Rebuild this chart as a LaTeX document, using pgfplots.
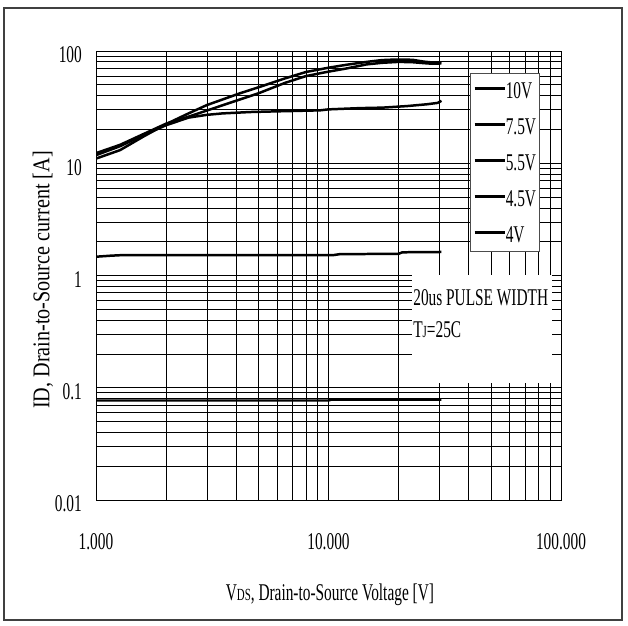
\documentclass[border=0pt]{standalone}
\usepackage{fontspec}
\setmainfont{Liberation Serif}[FakeStretch=0.64]
\newfontfamily\ylabfont{Liberation Serif}[FakeStretch=0.84]
\usepackage{pgfplots}
\pgfplotsset{compat=1.18}
\begin{document}%
\fontsize{24bp}{28bp}\selectfont%
\begin{tikzpicture}
\path[use as bounding box] (0,0) rectangle (628bp,626bp);
\draw[line width=1.2bp, black!75] (4bp,6bp) rectangle (622bp,618bp);
\begin{axis}[
 at={(96bp,126bp)}, anchor=south west,
 scale only axis, width=465bp, height=449bp,
 xmode=log, ymode=log,
 xmin=1, xmax=100, ymin=0.01, ymax=100,
 xtick={1,10,100}, xticklabels={1.000,10.000,100.000},
 ytick={0.01,0.1,1,10,100}, yticklabels={0.01,0.1,1,10,100},
 grid=both,
 major grid style={black, line width=0.8bp},
 minor grid style={black, line width=0.8bp},
 major tick length=0pt, minor tick length=0pt,
 axis line style={black, line width=1bp},
 xticklabel style={anchor=center, inner sep=0pt, yshift=-42bp},
 yticklabel style={anchor=east, inner sep=0pt, xshift=-14bp, yshift=-4bp},
 xlabel={V{\fontsize{17bp}{20bp}\selectfont DS}, Drain-to-Source Voltage [V]},
 ylabel={\ylabfont ID, Drain-to-Source current [A]},
 every axis x label/.style={at={(axis description cs:0.503,-0.2116)},anchor=center},
 every axis y label/.style={at={(axis description cs:-0.114,0.49)},rotate=90,anchor=center},
 legend style={at={(axis description cs:0.804,0.951)}, anchor=north west, draw=black!70, line width=0.8bp, fill=white, inner xsep=3bp, inner ysep=8bp, row sep=18bp, nodes={inner sep=0pt, text height=17bp, text depth=1bp}},
 legend cell align=left,
 legend image code/.code={\draw[line width=2.5pt] (0bp,2bp) -- (30bp,2bp);},
]
\addplot[black, line width=2.5pt] coordinates {(1,11.0) (1.27,13.1) (1.6,17.3) (2,22.3) (2.5,27.8) (3,33) (4.16,42) (5,47.5) (6.5,57) (8,65) (10,71) (12,75.5) (14.6,80) (17,83) (19.6,84) (23,83.5) (25.6,80.5) (28,79) (30.6,79)};
\addlegendentry{10V}
\addplot[black, line width=2.5pt] coordinates {(1,12.3) (1.27,14.6) (1.6,18.2) (2,22.5) (2.5,26) (3,29.5) (4.16,37) (5,42) (6.5,52) (8,59.8) (10,65.5) (12,70) (14.6,76) (17,78.5) (20,80) (23,79.5) (25.6,78) (28,77) (30.6,77.5)};
\addlegendentry{7.5V}
\addplot[black, line width=2.5pt] coordinates {(1,11.8) (1.27,14.2) (1.6,17.8) (2,21.8) (2.5,25.5) (3,27) (3.5,27.8) (4.6,28.6) (6,29) (9.2,29.6) (10,30.2) (13.7,31) (17.1,31.3) (21.7,32.3) (26.4,33.5) (29.5,34.5) (30.6,36)};
\addlegendentry{5.5V}
\addplot[black, line width=2.5pt] coordinates {(1,1.47) (1.15,1.50) (1.3,1.52) (5,1.52) (10.5,1.52) (11.2,1.55) (20,1.56) (20.8,1.61) (30.6,1.62)};
\addlegendentry{4.5V}
\addplot[black, line width=2.5pt] coordinates {(1,0.077) (10,0.077) (10.3,0.0785) (30.6,0.0785)};
\addlegendentry{4V}
\fill[white] (rel axis cs:0.6796,0.2606) rectangle (rel axis cs:0.9806,0.5011);
\node[anchor=west, inner sep=0pt] at (rel axis cs:0.682,0.4499) {20us PULSE WIDTH};
\node[anchor=west, inner sep=0pt] at (rel axis cs:0.682,0.3786) {T{\fontsize{17bp}{20bp}\selectfont J}=25C};
\end{axis}
\end{tikzpicture}%
\end{document}
